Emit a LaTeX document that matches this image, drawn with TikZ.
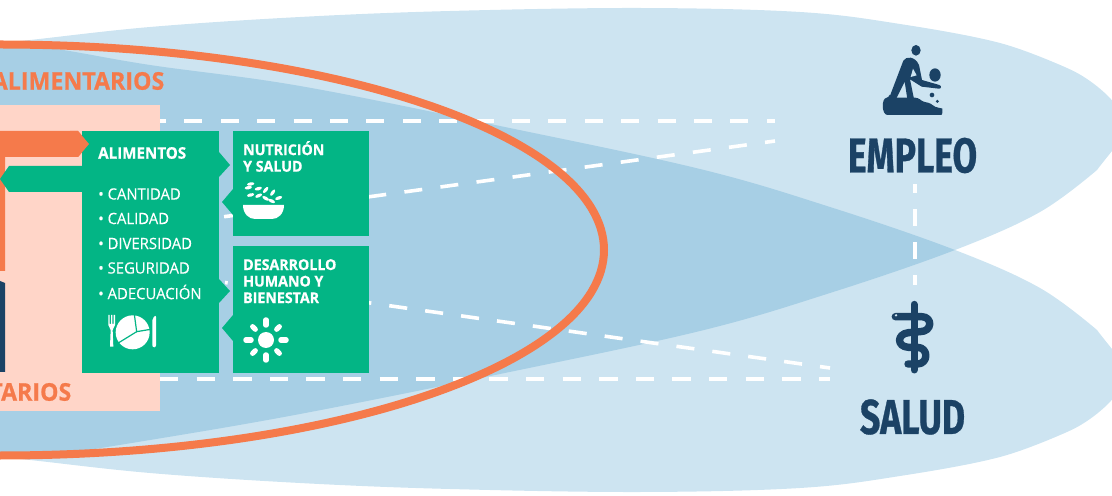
\documentclass[tikz,border=0pt]{standalone}
\usepackage{fontspec}
\setmainfont{Open Sans}
\newfontfamily\titlefont[FakeStretch=0.73,FakeBold=0.6]{Fira Sans Bold}
\newfontfamily\heavyfont[FakeStretch=0.95,FakeBold=0.7]{Open Sans Bold}
\newfontfamily\listfont[FakeStretch=0.95,FakeBold=0.25]{Open Sans}
\usetikzlibrary{positioning}

\definecolor{lobelight}{HTML}{CDE4F1}
\definecolor{lobedark}{HTML}{A7CFE5}
\definecolor{peach}{HTML}{FFD5C8}
\definecolor{orangeline}{HTML}{F57A4B}
\definecolor{greenbox}{HTML}{03B585}
\definecolor{navy}{HTML}{1B4265}

\tikzset{
    panel/.style={fill=greenbox,minimum width=#1,inner sep=0pt,outer sep=0pt},
    panel/.default=136bp,
    boxtitle/.style={anchor=north west,inner sep=0pt,align=left,text=white,font=\fontsize{15}{16.6}\selectfont\heavyfont},
    listitem/.style={anchor=west,inner sep=0pt,text=white,font=\fontsize{15.7}{18}\selectfont\listfont},
    sectorword/.style={anchor=east,inner sep=0pt,text=orangeline,font=\fontsize{24.5}{28}\selectfont\heavyfont},
    bigword/.style={inner sep=0pt,text=navy,font=\fontsize{49}{50}\selectfont\titlefont},
    dashline/.style={draw=white,line width=3.6bp}
}

\def\upperlobe{plot[smooth,tension=0.6] coordinates {(-30,46) (30,40) (150,27) (300,17) (450,11) (640,8) (800,12) (900,24) (1000,43) (1067,68)} .. controls (1095,80) and (1125,108) .. (1125,125) .. controls (1125,138) and (1112,150) .. (1097,170) -- plot[smooth,tension=0.6] coordinates {(1097,170) (1040,212) (955,250) (830,293) (700,331) (500,374) (300,414) (150,440) (50,455) (-30,460)} -- cycle}
\def\lowerlobe{plot[smooth,tension=0.6] coordinates {(-30,40) (50,48) (150,65) (300,86) (500,126) (700,169) (830,207) (955,250) (1040,288) (1097,330)} .. controls (1112,350) and (1125,362) .. (1125,375) .. controls (1125,392) and (1095,420) .. (1067,432) -- plot[smooth,tension=0.6] coordinates {(1067,432) (1000,457) (900,476) (800,488) (640,492) (450,489) (300,483) (150,473) (30,460) (-30,454)} -- cycle}

\begin{document}
\begin{tikzpicture}[x=1bp,y=-1bp]
    \useasboundingbox (0,0) rectangle (1112,496);
    \clip (0,0) rectangle (1112,496);

    \fill[lobelight] \upperlobe;
    \fill[lobelight] \lowerlobe;
    \begin{scope}
        \clip \upperlobe;
        \fill[lobedark] \lowerlobe;
    \end{scope}

    \node[fill=peach,minimum width=180bp,minimum height=306bp,inner sep=0pt,outer sep=0pt] (foodbox) at (70,258) {};

    \coordinate (topstart) at (160,121);
    \coordinate (topend) at (775,121);
    \coordinate (bottomstart) at (160,379);
    \coordinate (bottomend) at (830,379);
    \coordinate (nutristart) at (222,217);
    \coordinate (nutriend) at (775,141);
    \coordinate (humanstart) at (225,282.5);
    \coordinate (humanend) at (830,368);
    \coordinate (jobfoot) at (915,184);
    \coordinate (healthhead) at (915,285);

    \draw[dashline,dash pattern=on 18bp off 18.4bp,dash phase=12bp] (topstart) -- (topend);
    \draw[dashline,dash pattern=on 18.3bp off 18.3bp] (bottomstart) -- (bottomend);
    \draw[dashline,dash pattern=on 18bp off 18.4bp,dash phase=34.3bp] (nutristart) -- (nutriend);
    \draw[dashline,dash pattern=on 18.1bp off 18.15bp,dash phase=15.35bp] (humanstart) -- (humanend);
    \draw[dashline,line width=4.5bp,dash pattern=on 16.5bp off 16.5bp,dash phase=7.5bp] (jobfoot) -- (healthhead);

    \draw[orangeline,line width=8bp] (0,250) ellipse (604 and 205.5);

    \fill[orangeline] (-5,131) -- (78,131) -- (89,144) -- (78,157) -- (5,157) -- (5,271) -- (-5,271) -- cycle;
    \fill[navy] (-5,283) -- (0,281) -- (5,283) -- (5,372) -- (-5,372) -- cycle;

    \node[panel=137bp,minimum height=242bp] (foodpanel) at (150.5,252) {};
    \node[panel,minimum height=105bp] (nutripanel) at (301,183.5) {};
    \node[panel,minimum height=127bp] (humanpanel) at (301,309.5) {};

    \fill[orangeline] (70,131) -- (78,131) -- (89,144) -- (78,157) -- (70,157) -- cycle;
    \fill[greenbox] (82,166) -- (9,166) -- (0,179) -- (9,192) -- (82,192) -- cycle;
    \fill[greenbox] (219,152) -- (230,165) -- (219,177) -- cycle;
    \fill[greenbox] (219,279) -- (230,291) -- (219,303) -- cycle;
    \fill[greenbox] (233,189) -- (222,202) -- (233,215) -- cycle;
    \fill[greenbox] (233,315) -- (222,328) -- (233,341) -- cycle;

    \node[sectorword] (foodword) at (164.5,81) {ALIMENTARIOS};
    \node[sectorword] (foodwordlow) at (71.5,392) {TARIOS};

    \node[listitem,font=\fontsize{16}{18}\selectfont\heavyfont] (foodtitle) at (98,153) {ALIMENTOS};
    \foreach \y/\word/\name in {194/CANTIDAD/cantidad,218.5/CALIDAD/calidad,243.5/DIVERSIDAD/diversidad,268/SEGURIDAD/seguridad,292/ADECUACIÓN/adecuacion} {
        \node[listitem] (\name) at (98,\y) {• \word};
    }
    \node[boxtitle] (nutrititle) at (243,141) {NUTRICIÓN\\Y SALUD};
    \node[boxtitle] (humantitle) at (243,259) {DESARROLLO\\HUMANO Y\\BIENESTAR};

    % plato
    \begin{scope}[shift={(80,130)},scale=1/3]
        \fill[white] (85,555) -- (85,585) -- (92,600) -- (90,650) -- (100,650) -- (98,600) -- (105,585) -- (105,555) -- (101,555) -- (101,582) -- (97,582) -- (97,555) -- (93,555) -- (93,582) -- (89,582) -- (89,555) -- cycle;
        \fill[white] (158,607) circle (51);
        \draw[greenbox,line width=1.2bp] (163,553) -- (170,605) -- (212,598);
        \draw[greenbox,line width=1.2bp] (170,605) -- (110,642);
        \fill[white,rounded corners=2bp] (217,652) -- (217,565) -- (228,555) -- (228,652) -- cycle;
    \end{scope}

    % bol
    \fill[white] (243,205) -- (284,205) .. controls (284,214) and (278,219) .. (272,219) -- (255,219) .. controls (249,219) and (243,214) .. (243,205) -- cycle;
    \begin{scope}[shift={(0,60)},scale=1/3]
        \foreach \x/\y/\a in {752/372/10,775/386/15,797/390/50,818/398/55,752/405/15,776/407/25,797/415/-30,815/423/-25,836/414/20,745/383/10} {
            \fill[white,rotate around={\a:(\x,\y)}] (\x,\y) ellipse (11 and 5);
        }
    \end{scope}

    % sol
    \fill[white] (266,340) circle (8);
    \foreach \a in {0,90,180,270} {
        \draw[white,line width=5.5bp,line cap=round] ([shift={(\a:15)}]266,340) -- ([shift={(\a:20)}]266,340);
    }
    \foreach \a in {45,135,225,315} {
        \draw[white,line width=5bp,line cap=round] ([shift={(\a:15)}]266,340) -- ([shift={(\a:19)}]266,340);
    }

    % empleo
    \node[bigword] (jobword) at (912.5,155.5) {EMPLEO};
    \begin{scope}[shift={(820,30)},scale=1/3]
        \fill[navy] (288,61) circle (14 and 16);
        \fill[navy] (345,135) circle (17 and 20);
        \fill[navy] (336,195) circle (7);
        \fill[navy] (352,214) circle (5);
        \fill[navy] (207,205) -- (250,92) .. controls (258,78) and (285,78) .. (297,105) -- (306,150) -- (358,165) .. controls (366,168) and (364,177) .. (356,176) -- (305,170) -- (270,148) -- (282,207) -- (262,207) -- (254,155) -- (228,207) -- cycle;
        \fill[lobelight] (279,116) -- (290,136) -- (272,141) -- cycle;
        \fill[navy,rounded corners=3bp] (208,203) -- (295,203) -- (305,214) -- (333,220) -- (345,232) -- (358,233) .. controls (368,236) and (368,255) .. (355,255) -- (212,255) .. controls (184,255) and (184,205) .. (208,203) -- cycle;
    \end{scope}

    % salud
    \node[bigword] (healthword) at (912.5,417) {SALUD};
    \begin{scope}[shift={(820,290)},scale=1/3]
        \draw[navy,line width=7bp,line cap=round] (282,43) -- (282,240);
        \draw[navy,line width=7.4bp,line cap=round,line join=round] (226,80) -- (305,80) .. controls (338,80) and (338,125) .. (300,125) -- (265,128) .. controls (230,132) and (230,170) .. (265,172) -- (292,172) .. controls (326,172) and (326,222) .. (292,222) -- (264,222);
        \fill[lobelight] (228,76) circle (4);
    \end{scope}
\end{tikzpicture}
\end{document}
